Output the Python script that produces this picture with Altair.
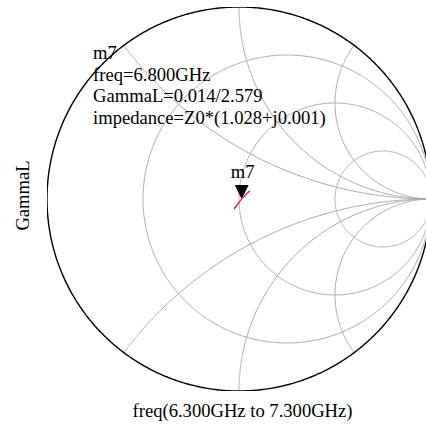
import numpy as np
import pandas as pd
import altair as alt

# Smith chart grid values
r_circles = [1/3, 1.0, 3.0]
x_arcs = [0.5, 1.0, 2.0, -0.5, -1.0, -2.0]

freq_ghz = [6.30, 6.55, 6.80, 7.05, 7.30]
gamma_re = [-0.026, -0.006, 0.014, 0.035, 0.057]
gamma_im = [-0.052, -0.026, 0.0006, 0.022, 0.043]

marker_name = "m7"
marker_re = [0.014]
marker_im = [0.0006]
annotation_lines = ["m7", "freq=6.800GHz", "GammaL=0.014/2.579", "impedance=Z0*(1.028+j0.001)"]
annotation_pos = [-0.760, 0.729]

FONT = "Liberation Serif"
FS = 18.6

# grid geometry
rows = []
t = np.linspace(0, 2 * np.pi, 721)
for k, r in enumerate(r_circles):
    c = r / (1 + r)
    rad = 1 / (1 + r)
    for i, a in enumerate(t):
        rows.append(dict(curve=f"r{k}", i=i, gx=c + rad * np.cos(a), gy=rad * np.sin(a)))
rr = np.concatenate([[0.0], np.logspace(-3, 4, 600)])
for k, xv in enumerate(x_arcs):
    z = rr + 1j * xv
    g = (z - 1) / (z + 1)
    for i, gv in enumerate(g):
        rows.append(dict(curve=f"x{k}", i=i, gx=gv.real, gy=gv.imag))
grid = pd.DataFrame(rows)

outer = pd.DataFrame(dict(i=np.arange(len(t)), gx=np.cos(t), gy=np.sin(t)))
trace = pd.DataFrame(dict(freq=freq_ghz, gx=gamma_re, gy=gamma_im))
marker = pd.DataFrame(dict(gx=marker_re, gy=marker_im, name=[marker_name]))
annot = pd.DataFrame(dict(gx=[annotation_pos[0]], gy=[annotation_pos[1]], txt=["\n".join(annotation_lines)]))

xs = alt.Scale(domain=[-1, 0.974], nice=False, zero=False)
ys = alt.Scale(domain=[-1, 1], nice=False, zero=False)

X = alt.X("gx:Q", scale=xs, axis=alt.Axis(title="freq(6.300GHz to 7.300GHz)", labels=False, ticks=False,
                                          domain=False, grid=False, titleX=195, titleY=25,
                                          titleBaseline="alphabetic", titleAlign="center",
                                          titleFont=FONT, titleFontSize=FS, titleFontWeight="normal",
                                          titleColor="black"))
Y = alt.Y("gy:Q", scale=ys, axis=alt.Axis(title="GammaL", labels=False, ticks=False, domain=False, grid=False,
                                          titleX=-19, titleY=188, titleAngle=-90, titleBaseline="alphabetic",
                                          titleAlign="center", titleFont=FONT, titleFontSize=FS,
                                          titleFontWeight="normal", titleColor="black"))

grid_layer = alt.Chart(grid).mark_line(color="#a9a9a9", strokeWidth=1, clip=True).encode(
    x=X, y=Y, detail="curve:N", order="i:Q")
outer_layer = alt.Chart(outer).mark_line(color="black", strokeWidth=1.4, clip=True).encode(
    x=alt.X("gx:Q", scale=xs), y=alt.Y("gy:Q", scale=ys), order="i:Q")
tri_layer = alt.Chart(marker).mark_point(shape="M-1,-2L1,-2L0,0Z", size=196, filled=True, color="black",
                                         opacity=1).encode(
    x=alt.X("gx:Q", scale=xs), y=alt.Y("gy:Q", scale=ys))
trace_layer = alt.Chart(trace).mark_line(color="#e02030", strokeWidth=1.3).encode(
    x=alt.X("gx:Q", scale=xs), y=alt.Y("gy:Q", scale=ys), order="freq:Q")
mlabel = alt.Chart(marker).mark_text(font=FONT, fontSize=FS, color="black", dy=-21, dx=1,
                                      baseline="alphabetic", align="center").encode(
    x=alt.X("gx:Q", scale=xs), y=alt.Y("gy:Q", scale=ys), text="name:N")
annot_layer = alt.Chart(annot).mark_text(font=FONT, fontSize=FS, color="black", align="left",
                                          baseline="alphabetic", lineBreak="\n", lineHeight=21.5).encode(
    x=alt.X("gx:Q", scale=xs), y=alt.Y("gy:Q", scale=ys), text="txt:N")

chart = alt.layer(grid_layer, outer_layer, tri_layer, trace_layer, mlabel, annot_layer).properties(
    width=379, height=384,
    autosize=alt.AutoSizeParams(type="none"),
    padding={"left": 47, "top": 7, "right": 0, "bottom": 35},
    background="white",
).configure_view(strokeWidth=0)

chart.save("out.html", embed_options={"renderer": "svg", "actions": False})
